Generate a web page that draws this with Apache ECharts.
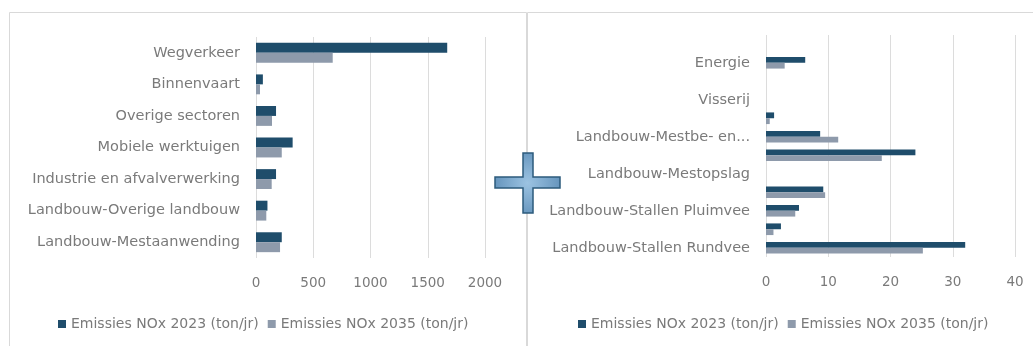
<!DOCTYPE html>
<html>
<head>
<meta charset="utf-8">
<script src="https://cdn.jsdelivr.net/npm/echarts@6/dist/echarts.min.js"></script>
<style>
  html, body { margin: 0; padding: 0; background: #ffffff; }
  #chart { width: 1033px; height: 346px; }
</style>
</head>
<body>
<div id="chart"></div>
<script>
// NOx emissions per sector (ton/jr), 2023 versus 2035
const seriesNames = ['Emissies NOx 2023 (ton/jr)', 'Emissies NOx 2035 (ton/jr)'];

// Left panel: all sectors, listed top to bottom
const leftCategories = [
  'Wegverkeer',
  'Binnenvaart',
  'Overige sectoren',
  'Mobiele werktuigen',
  'Industrie en afvalverwerking',
  'Landbouw-Overige landbouw',
  'Landbouw-Mestaanwending'
];
const left2023 = [1670, 60, 175, 320, 175, 100, 225];
const left2035 = [670, 35, 140, 225, 137, 90, 210];
const leftTicks = [0, 500, 1000, 1500, 2000];

// Right panel: listed bottom to top (every other label shown)
const rightCategories = [
  'Landbouw-Stallen Rundvee',
  'Landbouw-Stallen Overig',
  'Landbouw-Stallen Pluimvee',
  'Landbouw-Stallen Varkens',
  'Landbouw-Mestopslag',
  'Landbouw-Mestaanwending',
  'Landbouw-Mestbe- en...',
  'Industrie en afvalverwerking',
  'Visserij',
  'Binnenvaart',
  'Energie',
  'Overige sectoren'
];
const right2023 = [32, 2.4, 5.3, 9.2, 0, 24, 8.7, 1.3, 0, 0, 6.3, 0];
const right2035 = [25.2, 1.2, 4.7, 9.5, 0, 18.6, 11.6, 0.6, 0, 0, 3.0, 0];
const rightTicks = [0, 10, 20, 30, 40];

const colors = ['#1f4d6b', '#8e9aab'];
const textColor = '#7a7a7a';
const fontFamily = 'DejaVu Sans';

const chart = echarts.init(document.getElementById('chart'), null, { renderer: 'canvas' });

function valueAxis(gridIndex, ticks) {
  return {
    type: 'value',
    gridIndex: gridIndex,
    min: ticks[0],
    max: ticks[ticks.length - 1],
    interval: ticks[1] - ticks[0],
    axisLine: { show: false },
    axisTick: { show: false },
    axisLabel: {
      color: textColor, fontSize: 13.5, fontFamily: fontFamily, margin: 18,
      formatter: function (v) { return String(v); }
    },
    splitLine: { show: true, lineStyle: { color: '#dcdcdc', width: 1 } }
  };
}

function categoryAxis(gridIndex, cats, inverse, interval) {
  return {
    type: 'category',
    gridIndex: gridIndex,
    data: cats,
    inverse: inverse,
    axisLine: { show: false },
    axisTick: { show: false },
    splitLine: { show: false },
    axisLabel: {
      color: textColor, fontSize: 14.5, fontFamily: fontFamily, margin: 16,
      interval: interval
    }
  };
}

function barSeries(name, idx, data, colorIdx) {
  return {
    name: name,
    type: 'bar',
    xAxisIndex: idx,
    yAxisIndex: idx,
    data: data,
    barGap: '0%',
    barCategoryGap: '37%',
    itemStyle: { color: colors[colorIdx] },
    emphasis: { disabled: true },
    silent: true
  };
}

function legendAt(left) {
  return {
    data: seriesNames,
    left: left, top: 312, width: 500, orient: 'horizontal',
    itemWidth: 8, itemHeight: 8, itemGap: 9, icon: 'rect',
    textStyle: { color: textColor, fontSize: 14, fontFamily: fontFamily },
    selectedMode: false
  };
}

// Plus sign between the two panels
const plusPoints = [
  [523, 153], [533, 153], [533, 177], [560, 177], [560, 188], [533, 188],
  [533, 213], [523, 213], [523, 188], [495, 188], [495, 177], [523, 177]
];

chart.setOption({
  animation: false,
  backgroundColor: '#ffffff',
  textStyle: { fontFamily: fontFamily },
  grid: [
    { left: 256, right: 548, top: 37, bottom: 88, containLabel: false },
    { left: 766, right: 18, top: 35, bottom: 89, containLabel: false }
  ],
  legend: [legendAt(53), legendAt(573)],
  xAxis: [valueAxis(0, leftTicks), valueAxis(1, rightTicks)],
  yAxis: [
    categoryAxis(0, leftCategories, true, 0),
    categoryAxis(1, rightCategories, false, 1)
  ],
  series: [
    barSeries(seriesNames[0], 0, left2023, 0),
    barSeries(seriesNames[1], 0, left2035, 1),
    barSeries(seriesNames[0], 1, right2023, 0),
    barSeries(seriesNames[1], 1, right2035, 1)
  ],
  graphic: [
    {
      type: 'rect', silent: true, z: -10,
      shape: { x: 9.5, y: 12.5, width: 517, height: 340 },
      style: { fill: 'none', stroke: '#d9d9d9', lineWidth: 1 }
    },
    {
      type: 'rect', silent: true, z: -10,
      shape: { x: 527.5, y: 12.5, width: 520, height: 340 },
      style: { fill: 'none', stroke: '#d9d9d9', lineWidth: 1 }
    },
    {
      type: 'polygon', silent: true, z: 100,
      shape: { points: plusPoints },
      style: {
        fill: new echarts.graphic.RadialGradient(0.5, 0.5, 0.6, [
          { offset: 0, color: '#9cc3e2' },
          { offset: 1, color: '#5f8fb8' }
        ]),
        stroke: '#2d5b7c', lineWidth: 1.5
      }
    }
  ]
});
</script>
</body>
</html>
